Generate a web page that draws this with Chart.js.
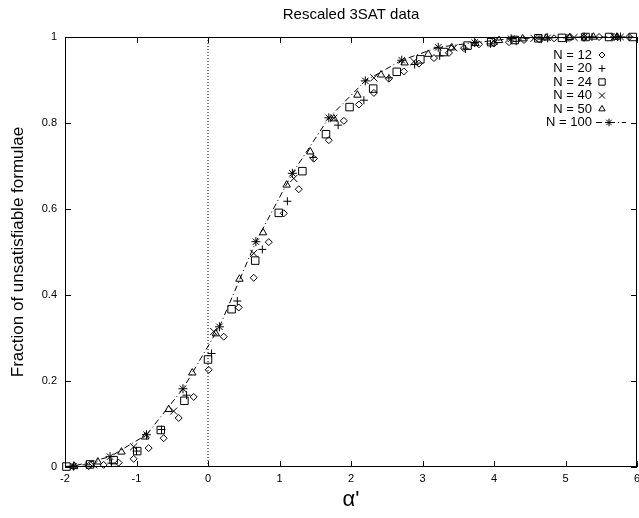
<!DOCTYPE html>
<html>
<head>
<meta charset="utf-8">
<script src="https://cdn.jsdelivr.net/npm/chart.js@4.4.1/dist/chart.umd.min.js"></script>
<style>
  html, body { margin: 0; padding: 0; background: #fff; }
  #wrap { width: 639px; height: 518px; }
</style>
</head>
<body>
<div id="wrap"><canvas id="satChart"></canvas></div>
<script>
// values (alpha' vs fraction unsat)
const xN12 = [-1.88, -1.67, -1.46, -1.25, -1.04, -0.83, -0.62, -0.41, -0.20, 0.01, 0.22, 0.43, 0.64, 0.85, 1.06, 1.27, 1.48, 1.69, 1.90, 2.11, 2.32, 2.53, 2.74, 2.95, 3.16, 3.37, 3.58, 3.79, 4.00, 4.21, 4.42, 4.63, 4.84, 5.05, 5.26, 5.47, 5.68, 5.89]
const yN12 = [0.001, 0.002, 0.005, 0.010, 0.019, 0.044, 0.067, 0.114, 0.163, 0.226, 0.303, 0.371, 0.440, 0.523, 0.590, 0.646, 0.717, 0.760, 0.805, 0.843, 0.870, 0.903, 0.920, 0.938, 0.951, 0.963, 0.974, 0.983, 0.985, 0.988, 0.993, 0.995, 0.997, 0.998, 0.999, 1.0, 1.0, 1.0]

const xN20 = [-1.70, -1.35, -1.00, -0.65, -0.30, 0.05, 0.41, 0.76, 1.11, 1.47, 1.82, 2.18, 2.53, 2.89, 3.24, 3.60, 3.95, 4.31, 4.66, 5.02, 5.37, 5.73]
const yN20 = [0.005, 0.009, 0.037, 0.087, 0.167, 0.264, 0.386, 0.506, 0.618, 0.720, 0.795, 0.853, 0.905, 0.936, 0.956, 0.972, 0.984, 0.990, 0.995, 0.998, 1.0, 1.0]

const xN24 = [-1.98, -1.65, -1.32, -0.99, -0.66, -0.33, 0.00, 0.33, 0.66, 0.99, 1.32, 1.65, 1.98, 2.31, 2.64, 2.97, 3.30, 3.63, 3.96, 4.29, 4.62, 4.95, 5.28, 5.61, 5.94]
const yN24 = [0.001, 0.006, 0.016, 0.037, 0.086, 0.154, 0.250, 0.367, 0.480, 0.591, 0.688, 0.774, 0.837, 0.880, 0.919, 0.948, 0.965, 0.980, 0.988, 0.993, 0.997, 0.998, 1.0, 1.0, 1.0]

const xN40 = [-1.60, -1.04, -0.48, 0.08, 0.64, 1.20, 1.76, 2.32, 2.88, 3.44, 4.00, 4.56, 5.12, 5.68]
const yN40 = [0.005, 0.047, 0.130, 0.315, 0.497, 0.671, 0.811, 0.905, 0.943, 0.975, 0.990, 0.997, 0.999, 1.0]

const xN50 = [-1.87, -1.54, -1.21, -0.88, -0.55, -0.22, 0.11, 0.44, 0.77, 1.10, 1.43, 1.76, 2.09, 2.42, 2.75, 3.08, 3.41, 3.74, 4.07, 4.40, 4.73, 5.06, 5.39, 5.72]
const yN50 = [0.002, 0.012, 0.035, 0.070, 0.134, 0.219, 0.310, 0.437, 0.545, 0.656, 0.733, 0.810, 0.865, 0.912, 0.940, 0.960, 0.975, 0.985, 0.992, 0.996, 0.998, 0.999, 1.0, 1.0]

const xN100 = [-2.39, -1.88, -1.37, -0.86, -0.35, 0.16, 0.67, 1.18, 1.69, 2.20, 2.71, 3.22, 3.73, 4.24, 4.75, 5.26, 5.77, 6.28]
const yN100 = [0.0, 0.002, 0.024, 0.075, 0.182, 0.326, 0.524, 0.683, 0.812, 0.898, 0.946, 0.976, 0.987, 0.996, 0.998, 1.0, 1.0, 1.0]

const zeroLineX = [0, 0]
const zeroLineY = [0, 1]

const xTickLabels = ['-2', '-1', '0', '1', '2', '3', '4', '5', '6']
const yTickLabels = ['0', '0.2', '0.4', '0.6', '0.8', '1']

const FONT = '"Liberation Sans", Arial, Helvetica, sans-serif'
const pts = (xs, ys) => xs.map((x, i) => ({ x: x, y: ys[i] }))

// gnuplot-ish key: label right aligned, symbol to the right of it
const keyPlugin = {
  id: 'gnuKey',
  afterDatasetsDraw(chart) {
    const ctx = chart.ctx
    const area = chart.chartArea
    const textRight = area.right - 45
    const symX = area.right - 35
    let y = area.top + 18
    ctx.save()
    ctx.font = '13px ' + FONT
    ctx.textAlign = 'right'
    ctx.textBaseline = 'middle'
    chart.data.datasets.forEach(ds => {
      if (!ds.label) return
      ctx.fillStyle = '#000'
      ctx.fillText(ds.label, textRight, y)
      ctx.strokeStyle = '#000'
      ctx.lineWidth = 1
      if (ds.showLine) {
        ctx.setLineDash(ds.borderDash)
        ctx.beginPath()
        ctx.moveTo(symX - 6, y)
        ctx.lineTo(symX + 24, y)
        ctx.stroke()
        ctx.setLineDash([])
      }
      ctx.fillStyle = 'rgba(0,0,0,0)'
      Chart.helpers.drawPoint(ctx, { pointStyle: ds.pointStyle, radius: ds.pointRadius * 0.85, rotation: 0, borderWidth: 1 }, ds.showLine ? symX + 7 : symX, y)
      y += 13.5
    })
    ctx.restore()
  }
}

// frame with inward tick marks on all four sides
const frameTicks = {
  id: 'frameTicks',
  afterDraw(chart) {
    const ctx = chart.ctx
    const a = chart.chartArea
    const xs = chart.scales.x, ys = chart.scales.y
    const len = 6
    ctx.save()
    ctx.strokeStyle = '#000'
    ctx.lineWidth = 1
    ctx.strokeRect(a.left + 0.5, a.top + 0.5, a.right - a.left - 1, a.bottom - a.top - 1)
    ctx.beginPath()
    xs.ticks.forEach(t => {
      const px = Math.round(xs.getPixelForValue(t.value)) + 0.5
      ctx.moveTo(px, a.bottom); ctx.lineTo(px, a.bottom - len)
      ctx.moveTo(px, a.top); ctx.lineTo(px, a.top + len)
    })
    ys.ticks.forEach(t => {
      const py = Math.round(ys.getPixelForValue(t.value)) + 0.5
      ctx.moveTo(a.left, py); ctx.lineTo(a.left + len, py)
      ctx.moveTo(a.right, py); ctx.lineTo(a.right - len, py)
    })
    ctx.stroke()
    ctx.restore()
  }
}

const common = { borderColor: '#000', backgroundColor: 'rgba(0,0,0,0)', pointBorderWidth: 1, showLine: false, clip: false }

new Chart(document.getElementById('satChart'), {
  type: 'scatter',
  data: {
    datasets: [
      { data: pts(zeroLineX, zeroLineY), showLine: true, borderColor: '#000', borderWidth: 1, borderDash: [1, 2], pointRadius: 0 },
      { ...common, label: 'N = 12', data: pts(xN12, yN12), pointStyle: 'rectRot', pointRadius: 3.5 },
      { ...common, label: 'N = 20', data: pts(xN20, yN20), pointStyle: 'cross', pointRadius: 4 },
      { ...common, label: 'N = 24', data: pts(xN24, yN24), pointStyle: 'rect', pointRadius: 5.3 },
      { ...common, label: 'N = 40', data: pts(xN40, yN40), pointStyle: 'crossRot', pointRadius: 5 },
      { ...common, label: 'N = 50', data: pts(xN50, yN50), pointStyle: 'triangle', pointRadius: 4.3 },
      { ...common, label: 'N = 100', data: pts(xN100, yN100), pointStyle: 'star', pointRadius: 4.5,
        showLine: true, borderWidth: 1, borderDash: [6, 3, 1, 3], tension: 0,
        clip: { left: 0, right: 0, top: 8, bottom: 8 } }
    ]
  },
  options: {
    responsive: true, maintainAspectRatio: false, animation: false,
    layout: { autoPadding: false, padding: { left: 0, right: 2, top: 0, bottom: 0 } },
    plugins: {
      legend: { display: false },
      tooltip: { enabled: false },
      title: { display: true, fullSize: false, text: 'Rescaled 3SAT data', color: '#000', font: { family: FONT, size: 15, weight: 'normal' }, padding: { top: 6, bottom: 13 } }
    },
    scales: {
      x: {
        type: 'linear', min: -2, max: 6,
        grid: { display: false, drawTicks: false }, border: { display: false },
        ticks: { stepSize: 1, color: '#000', padding: 5, font: { family: FONT, size: 11 }, maxRotation: 0,
          callback: (v, i) => xTickLabels[i] },
        title: { display: true, text: "α'", color: '#000', font: { family: FONT, size: 22 }, padding: { top: 0, bottom: 5 } },
        afterFit: s => { s.height = 51; s.paddingLeft = 0; s.paddingRight = 0 }
      },
      y: {
        type: 'linear', min: 0, max: 1,
        grid: { display: false, drawTicks: false }, border: { display: false },
        ticks: { stepSize: 0.2, color: '#000', padding: 8, font: { family: FONT, size: 11 },
          callback: (v, i) => yTickLabels[i] },
        title: { display: true, text: 'Fraction of unsatisfiable formulae', color: '#000', font: { family: FONT, size: 17 }, padding: { top: 8, bottom: 0 } },
        afterFit: s => { s.width = 65; s.paddingTop = 0; s.paddingBottom = 0 }
      }
    }
  },
  plugins: [keyPlugin, frameTicks]
})
</script>
</body>
</html>
